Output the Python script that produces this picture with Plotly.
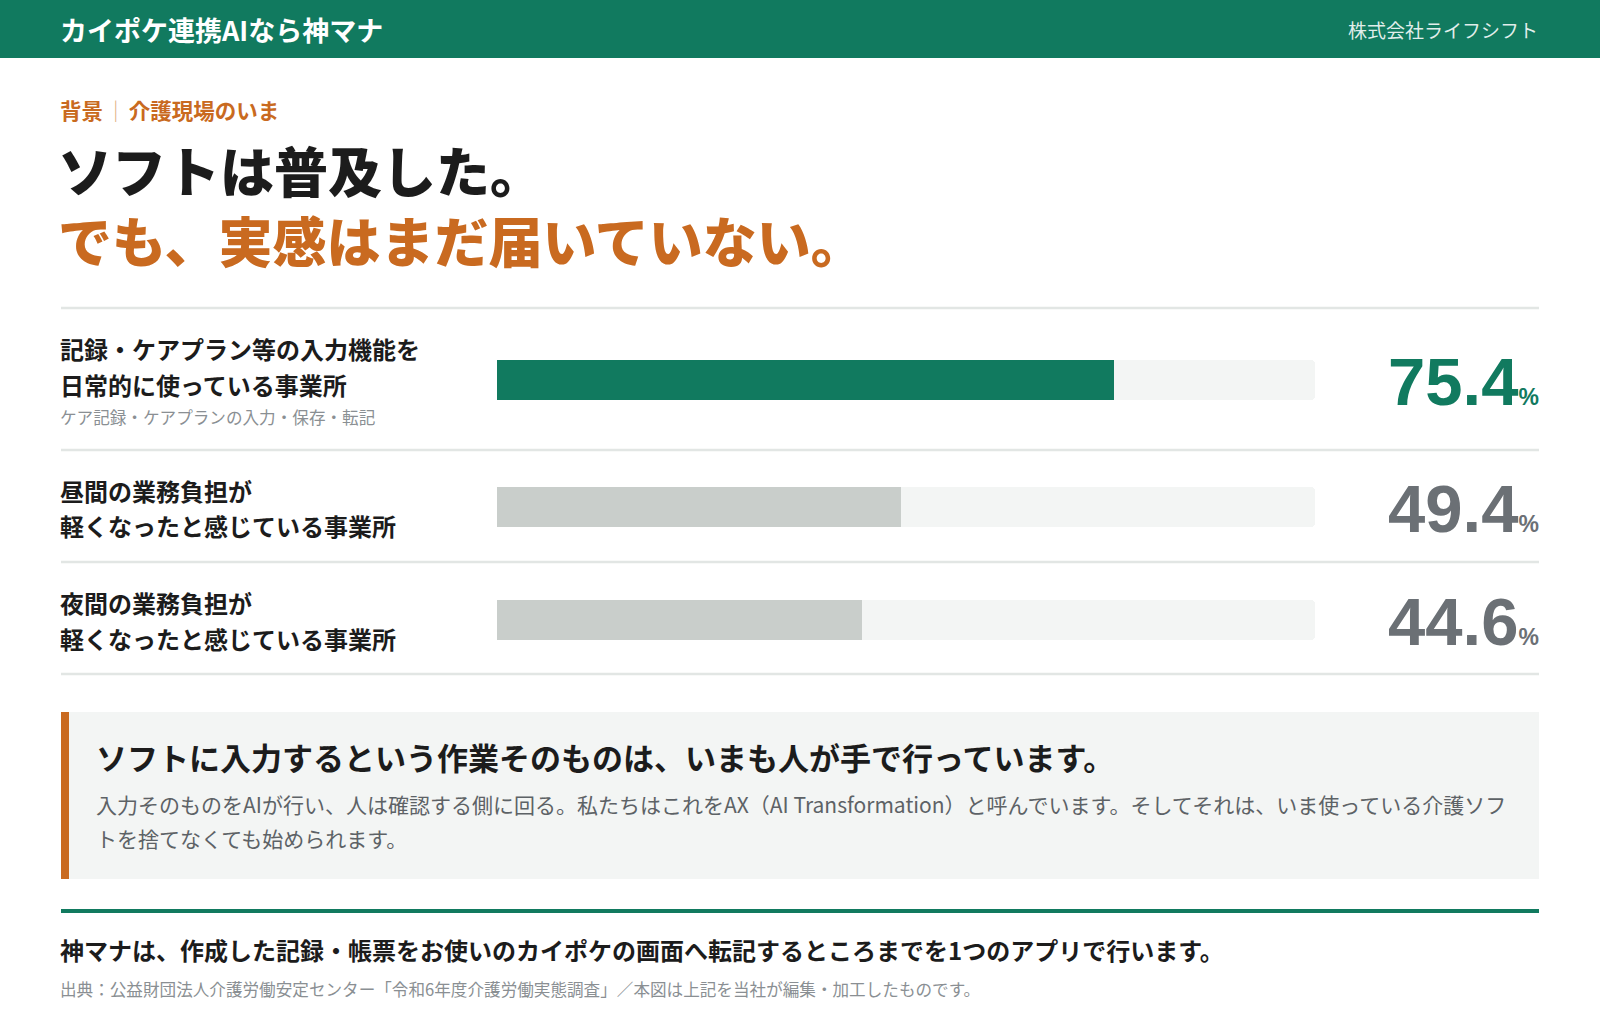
import plotly.graph_objects as go

# ---------------- data ----------------
header_title = "カイポケ連携AIなら神マナ"
company = "株式会社ライフシフト"
kicker_left = "背景"
kicker_right = "介護現場のいま"
headline_1 = "ソフトは普及した。"
headline_2 = "でも、実感はまだ届いていない。"

row_titles = [
    ["記録・ケアプラン等の入力機能を", "日常的に使っている事業所"],
    ["昼間の業務負担が", "軽くなったと感じている事業所"],
    ["夜間の業務負担が", "軽くなったと感じている事業所"],
]
row_notes = ["ケア記録・ケアプランの入力・保存・転記", "", ""]
values = [75.4, 49.4, 44.6]
scale_max = 100

callout_title = "ソフトに入力するという作業そのものは、いまも人が手で行っています。"
callout_body = [
    "入力そのものをAIが行い、人は確認する側に回る。私たちはこれをAX（AI Transformation）と呼んでいます。そしてそれは、いま使っている介護ソフ",
    "トを捨てなくても始められます。",
]
closing = "神マナは、作成した記録・帳票をお使いのカイポケの画面へ転記するところまでを1つのアプリで行います。"
source = "出典：公益財団法人介護労働安定センター「令和6年度介護労働実態調査」／本図は上記を当社が編集・加工したものです。"

# ---------------- style ----------------
W, H = 1600, 1026
GREEN = "#117a5f"
ORANGE = "#c96a20"
DARK = "#1c1c1c"
GRAY_TXT = "#6b7075"
TRACK = "#f3f5f4"
FILL_GRAY = "#c9cecb"
DIVIDER = "#e2e6e4"
JP = "Noto Sans CJK JP"
NUM = "Liberation Sans, Arial, sans-serif"

def X(px):
    return px / W

def Y(py):
    return 1 - py / H

fig = go.Figure()

bar_left, bar_right = 497, 1315
bar_centers = [380, 507, 620]
bar_h = 40
fill_colors = [GREEN, FILL_GRAY, FILL_GRAY]
value_colors = [GREEN, GRAY_TXT, GRAY_TXT]

layout_axes = {}
for i, v in enumerate(values):
    n = "" if i == 0 else str(i + 1)
    xa, ya = "x" + n, "y" + n
    fig.add_trace(go.Bar(x=[scale_max], y=["r"], orientation="h", xaxis=xa, yaxis=ya,
                         marker=dict(color=TRACK, cornerradius=4, line=dict(width=0)),
                         width=1, hoverinfo="skip", showlegend=False))
    fig.add_trace(go.Bar(x=[v], y=["r"], orientation="h", xaxis=xa, yaxis=ya,
                         marker=dict(color=fill_colors[i], cornerradius=4, line=dict(width=0)),
                         width=1, hoverinfo="skip", showlegend=False))
    c = bar_centers[i]
    layout_axes["xaxis" + n] = dict(domain=[X(bar_left), X(bar_right)], range=[0, scale_max],
                                   visible=False, fixedrange=True, anchor=ya)
    layout_axes["yaxis" + n] = dict(domain=[Y(c + bar_h / 2), Y(c - bar_h / 2)], range=[-0.5, 0.5],
                                   visible=False, fixedrange=True, anchor=xa)

shapes = []
# header band
shapes.append(dict(type="rect", xref="paper", yref="paper", x0=0, x1=1, y0=Y(58), y1=1,
                   fillcolor=GREEN, line=dict(width=0), layer="below"))
# dividers
for yy in [308, 450, 562, 674]:
    shapes.append(dict(type="line", xref="paper", yref="paper", x0=X(61), x1=X(1539), y0=Y(yy), y1=Y(yy),
                       line=dict(color=DIVIDER, width=2.5), layer="below"))
# callout box
shapes.append(dict(type="rect", xref="paper", yref="paper", x0=X(61), x1=X(1539), y0=Y(879), y1=Y(712),
                   fillcolor=TRACK, line=dict(width=0), layer="below"))
shapes.append(dict(type="rect", xref="paper", yref="paper", x0=X(61), x1=X(69), y0=Y(879), y1=Y(712),
                   fillcolor=ORANGE, line=dict(width=0), layer="below"))
# bottom green rule
shapes.append(dict(type="rect", xref="paper", yref="paper", x0=X(61), x1=X(1539), y0=Y(913), y1=Y(909),
                   fillcolor=GREEN, line=dict(width=0), layer="below"))

annotations = []

def ann(text, x, y, size, color, weight=400, xanchor="left", yanchor="middle", family=JP, align="left"):
    annotations.append(dict(text=text, x=X(x), y=Y(y), xref="paper", yref="paper",
                            xanchor=xanchor, yanchor=yanchor, showarrow=False, align=align,
                            font=dict(family=family, size=size, color=color, weight=weight),
                            borderpad=0))

ann(header_title, 59, 29, 27, "white", 700)
ann(company, 1539, 29, 19, "rgba(255,255,255,0.88)", 400, xanchor="right")
sp = "<span style='font-size:9px'> </span>"
ann(f"{kicker_left}{sp}<span style='color:#e3b48c'>｜</span>{sp}{kicker_right}", 59, 109, 21.5, ORANGE, 700)
ann(f"{headline_1}<br><span style='color:{ORANGE}'>{headline_2}</span>", 57, 204, 54, DARK, 900)

label_lines_y = [[348, 384], [490, 525], [602, 638]]
note_y = [417, None, None]
for i, lines in enumerate(row_titles):
    for ln, yy in zip(lines, label_lines_y[i]):
        ann(ln, 59, yy, 24, DARK, 700)
    if row_notes[i]:
        ann(row_notes[i], 59, note_y[i], 16.6, "#8a8f93", 400)
    ann(f"{values[i]:.1f}<span style='font-size:23px'>%</span>", 1540, bar_centers[i] + 1, 67,
        value_colors[i], 700, xanchor="right", family=NUM)

ann(callout_title, 95, 756, 31, DARK, 700)
for ln, yy in zip(callout_body, [804, 838]):
    ann(ln, 95, yy, 21, "#5d6266", 400)

ann(closing, 59, 949, 24, DARK, 700)
ann(source, 59, 989, 16.6, "#8a8f93", 400)

fig.update_layout(
    width=W, height=H, margin=dict(l=0, r=0, t=0, b=0),
    paper_bgcolor="white", plot_bgcolor="rgba(0,0,0,0)",
    barmode="overlay", bargap=0, showlegend=False,
    shapes=shapes, annotations=annotations,
    **layout_axes,
)

fig.write_html("out.html", config={"displayModeBar": False},
               post_script="document.body.style.margin='0';document.body.style.overflow='hidden';")
